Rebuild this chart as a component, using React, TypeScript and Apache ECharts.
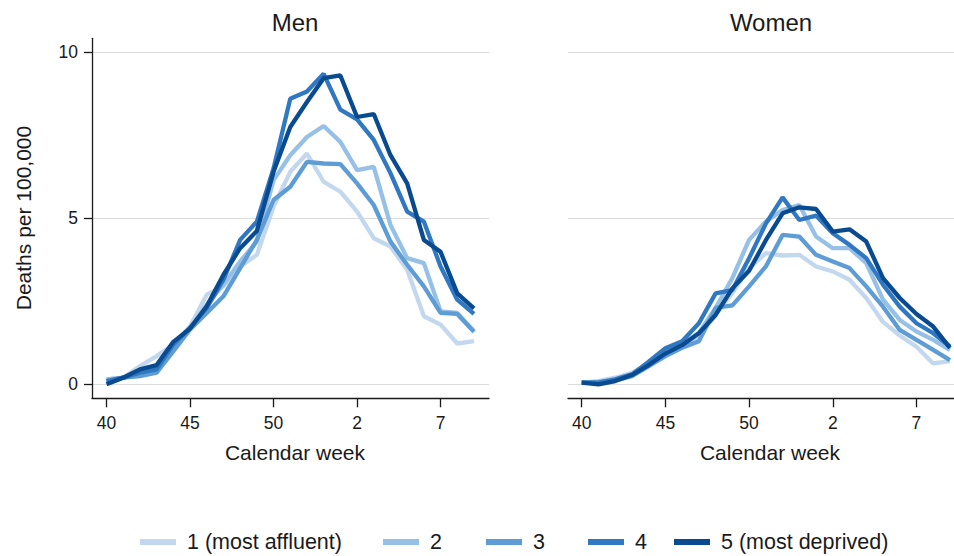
import React, { useEffect, useRef } from "react";
import * as echarts from "echarts";

const weekLabels = ["40","41","42","43","44","45","46","47","48","49","50","51","52","53","1","2","3","4","5","6","7","8","9"];
const tickIndexes = [0, 5, 10, 15, 20];
const yTicks = [0, 5, 10];
const groups = ["1 (most affluent)", "2", "3", "4", "5 (most deprived)"];
const colors = ["#c3d8ee", "#97c0e6", "#5e9cd6", "#3079c2", "#0a4a90"];

const men1 = [0.15, 0.2, 0.55, 0.85, 1.2, 1.75, 2.7, 2.95, 3.55, 3.9, 5.35, 6.4, 6.95, 6.1, 5.8, 5.2, 4.4, 4.15, 3.45, 2.05, 1.8, 1.23, 1.3];
const men2 = [0.15, 0.2, 0.35, 0.5, 1.1, 1.7, 2.4, 3.0, 3.7, 4.3, 6.15, 6.9, 7.45, 7.78, 7.3, 6.45, 6.55, 4.8, 3.8, 3.65, 2.2, 2.15, 1.6];
const men3 = [0.1, 0.2, 0.25, 0.35, 1.0, 1.65, 2.15, 2.65, 3.5, 4.35, 5.55, 5.95, 6.7, 6.65, 6.63, 6.05, 5.4, 4.3, 3.6, 2.95, 2.15, 2.12, 1.58];
const men4 = [0.1, 0.2, 0.35, 0.45, 1.2, 1.7, 2.3, 3.15, 4.35, 4.9, 6.5, 8.6, 8.82, 9.35, 8.27, 7.98, 7.36, 6.36, 5.2, 4.9, 3.55, 2.55, 2.12];
const men5 = [0.0, 0.2, 0.45, 0.58, 1.28, 1.68, 2.35, 3.3, 4.1, 4.62, 6.4, 7.75, 8.5, 9.22, 9.3, 8.05, 8.14, 6.9, 6.05, 4.35, 3.99, 2.74, 2.29];

const women1 = [0.05, 0.1, 0.2, 0.35, 0.6, 0.9, 1.15, 1.45, 2.1, 2.75, 3.5, 3.95, 3.88, 3.9, 3.55, 3.4, 3.15, 2.6, 1.88, 1.47, 1.13, 0.63, 0.7];
const women2 = [0.05, 0.08, 0.15, 0.3, 0.55, 1.0, 1.2, 1.55, 2.3, 3.2, 4.35, 4.9, 5.25, 5.4, 4.45, 4.1, 4.1, 3.65, 2.55, 1.94, 1.59, 1.34, 1.04];
const women3 = [0.05, 0.05, 0.12, 0.25, 0.55, 0.85, 1.1, 1.3, 2.3, 2.38, 2.95, 3.55, 4.5, 4.45, 3.9, 3.7, 3.5, 2.95, 2.34, 1.64, 1.34, 1.04, 0.73];
const women4 = [0.05, 0.05, 0.15, 0.3, 0.68, 1.09, 1.3, 1.84, 2.74, 2.84, 3.8, 4.84, 5.63, 4.95, 5.08, 4.55, 4.2, 3.8, 3.0, 2.34, 1.84, 1.54, 1.14];
const women5 = [0.05, 0.0, 0.1, 0.28, 0.58, 0.93, 1.18, 1.54, 2.09, 2.89, 3.42, 4.34, 5.15, 5.33, 5.28, 4.6, 4.67, 4.3, 3.2, 2.6, 2.12, 1.74, 1.1];

const menSeries = [men1, men2, men3, men4, men5];
const womenSeries = [women1, women2, women3, women4, women5];

const legendLefts = [140, 383, 486, 588, 674];

const FONT = "'Liberation Sans', Arial, sans-serif";

export default function App() {
  const ref = useRef<HTMLDivElement>(null);
  useEffect(() => {
    if (!ref.current) return;
    const chart = echarts.init(ref.current, null, { renderer: "svg" });

    const xAxisBase = (gridIndex: number, min: number) => ({
      type: "value",
      gridIndex,
      min,
      max: 22.9,
      axisLine: { show: true, onZero: false, lineStyle: { color: "#1a1a1a", width: 1.3 } },
      axisTick: { show: true, length: 9, customValues: tickIndexes, lineStyle: { color: "#1a1a1a", width: 1.3 } },
      axisLabel: {
        customValues: tickIndexes,
        formatter: (v: number) => weekLabels[Math.round(v)] ?? "",
        color: "#1a1a1a",
        fontSize: 17.5,
        fontFamily: FONT,
        margin: 16,
      },
      splitLine: { show: false },
    });

    const yAxisBase = (gridIndex: number, showAxis: boolean) => ({
      type: "value",
      gridIndex,
      min: -0.42,
      max: 10.42,
      axisLine: { show: showAxis, onZero: false, lineStyle: { color: "#1a1a1a", width: 1.3 } },
      axisTick: { show: showAxis, length: 8, customValues: yTicks, lineStyle: { color: "#1a1a1a", width: 1.3 } },
      axisLabel: {
        show: showAxis,
        customValues: yTicks,
        color: "#1a1a1a",
        fontSize: 17.5,
        fontFamily: FONT,
        margin: 14,
      },
      splitLine: { show: true, lineStyle: { color: "#dcdcdc", width: 1.2 } },
    });

    const series: any[] = [];
    menSeries.forEach((vals, k) => {
      series.push({
        name: groups[k],
        type: "line",
        xAxisIndex: 0,
        yAxisIndex: 0,
        data: vals.map((v, i) => [i, v]),
        showSymbol: false,
        symbol: "none",
        color: colors[k],
        lineStyle: { color: colors[k], width: 4.3 },
        z: 2 + k,
      });
    });
    womenSeries.forEach((vals, k) => {
      series.push({
        name: groups[k],
        type: "line",
        xAxisIndex: 1,
        yAxisIndex: 1,
        data: vals.map((v, i) => [i, v]),
        showSymbol: false,
        symbol: "none",
        color: colors[k],
        lineStyle: { color: colors[k], width: 4.3 },
        z: 2 + k,
      });
    });

    const legends = groups.map((g, k) => ({
      data: [g],
      left: legendLefts[k],
      top: 530,
      orient: "horizontal",
      icon: "rect",
      itemWidth: 36,
      itemHeight: 6,
      selectedMode: false,
      padding: 0,
      textStyle: { fontSize: 21.5, fontFamily: FONT, color: "#1a1a1a", padding: [0, 0, 0, 6], lineHeight: 24 },
    }));

    chart.setOption({
      animation: false,
      backgroundColor: "#ffffff",
      textStyle: { fontFamily: FONT },
      title: [
        { text: "Men", left: 290, top: 5, textAlign: "center", textStyle: { fontSize: 24, fontWeight: "normal", color: "#1a1a1a", fontFamily: FONT } },
        { text: "Women", left: 766, top: 5, textAlign: "center", textStyle: { fontSize: 24, fontWeight: "normal", color: "#1a1a1a", fontFamily: FONT } },
      ],
      grid: [
        { left: 92, top: 38.3, width: 397, height: 360, outerBoundsMode: "none", containLabel: false },
        { left: 568, top: 38.3, width: 397, height: 360, outerBoundsMode: "none", containLabel: false },
      ],
      xAxis: [xAxisBase(0, -0.87), xAxisBase(1, -0.82)],
      yAxis: [yAxisBase(0, true), yAxisBase(1, false)],
      legend: legends,
      graphic: [
        { type: "text", x: 295, y: 452, style: { text: "Calendar week", fontSize: 21, fontFamily: FONT, fill: "#1a1a1a", textAlign: "center", textVerticalAlign: "middle" } },
        { type: "text", x: 770, y: 452, style: { text: "Calendar week", fontSize: 21, fontFamily: FONT, fill: "#1a1a1a", textAlign: "center", textVerticalAlign: "middle" } },
        { type: "text", x: 23, y: 218, rotation: Math.PI / 2, style: { text: "Deaths per 100,000", fontSize: 21, fontFamily: FONT, fill: "#1a1a1a", textAlign: "center", textVerticalAlign: "middle" } },
      ],
      series,
    });
    return () => chart.dispose();
  }, []);
  return <div ref={ref} style={{ position: "fixed", left: 0, top: 0, width: 954, height: 556 }} />;
}
